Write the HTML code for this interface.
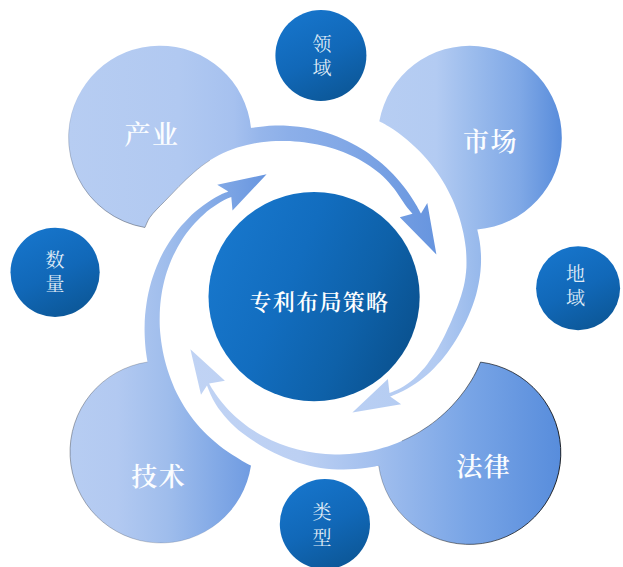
<!DOCTYPE html><html lang="zh"><head><meta charset="utf-8"><title>专利布局策略</title><style>html,body{margin:0;padding:0;background:#fff}svg{display:block}</style></head><body><svg width="623" height="567" viewBox="0 0 623 567"><defs><linearGradient id="g1" gradientUnits="userSpaceOnUse" x1="68" y1="0" x2="436" y2="0"><stop offset="0" stop-color="#b7cdf2"/><stop offset="0.3" stop-color="#b1c9f1"/><stop offset="0.45" stop-color="#a6c1ef"/><stop offset="0.52" stop-color="#96b6eb"/><stop offset="0.6" stop-color="#8cafe9"/><stop offset="0.75" stop-color="#82a8e6"/><stop offset="1" stop-color="#6795df"/></linearGradient><linearGradient id="g2" gradientUnits="userSpaceOnUse" x1="352" y1="0" x2="562" y2="0"><stop offset="0" stop-color="#b9cff3"/><stop offset="0.4" stop-color="#b3cbf2"/><stop offset="0.56" stop-color="#9dbded"/><stop offset="0.8" stop-color="#7fa8e6"/><stop offset="1" stop-color="#588cdb"/></linearGradient><linearGradient id="g3" gradientUnits="userSpaceOnUse" x1="190" y1="0" x2="560" y2="0"><stop offset="0" stop-color="#c0d3f4"/><stop offset="0.3" stop-color="#bcd0f3"/><stop offset="0.5" stop-color="#a2bfee"/><stop offset="0.75" stop-color="#79a5e6"/><stop offset="1" stop-color="#588ddc"/></linearGradient><linearGradient id="g4" gradientUnits="userSpaceOnUse" x1="68" y1="0" x2="267" y2="0"><stop offset="0" stop-color="#b7cdf2"/><stop offset="0.25" stop-color="#b2c9f1"/><stop offset="0.5" stop-color="#9fbdec"/><stop offset="0.75" stop-color="#82a9e6"/><stop offset="1" stop-color="#6795df"/></linearGradient><linearGradient id="gc" x1="0.05" y1="0.3" x2="0.98" y2="0.7"><stop offset="0" stop-color="#1776cb"/><stop offset="0.35" stop-color="#126dbf"/><stop offset="0.7" stop-color="#0e61a9"/><stop offset="1" stop-color="#0a5290"/></linearGradient>
<linearGradient id="gs" x1="0.25" y1="0.05" x2="0.7" y2="1"><stop offset="0" stop-color="#1674ca"/><stop offset="0.5" stop-color="#1168b8"/><stop offset="1" stop-color="#0c5797"/></linearGradient><linearGradient id="o3" gradientUnits="userSpaceOnUse" x1="378" y1="0" x2="560" y2="0"><stop offset="0" stop-color="#15181c" stop-opacity="0.25"/><stop offset="0.5" stop-color="#15181c" stop-opacity="0.6"/><stop offset="1" stop-color="#15181c" stop-opacity="0.95"/></linearGradient><linearGradient id="o4" gradientUnits="userSpaceOnUse" x1="68" y1="0" x2="252" y2="0"><stop offset="0" stop-color="#3a3f48" stop-opacity="0.5"/><stop offset="0.45" stop-color="#3a3f48" stop-opacity="0.25"/><stop offset="1" stop-color="#3a3f48" stop-opacity="0.0"/></linearGradient><linearGradient id="o1" gradientUnits="userSpaceOnUse" x1="0" y1="90" x2="0" y2="228"><stop offset="0" stop-color="#3a3f48" stop-opacity="0.0"/><stop offset="0.5" stop-color="#3a3f48" stop-opacity="0.3"/><stop offset="1" stop-color="#3a3f48" stop-opacity="0.5"/></linearGradient></defs><rect width="623" height="567" fill="#fff"/><path d="M251.0 128.0 C253.0 127.7 259.1 126.8 263.1 126.4 C267.1 125.9 271.1 125.7 275.1 125.6 C279.1 125.5 283.0 125.5 287.0 125.7 C290.9 125.9 294.8 126.2 298.7 126.7 C302.5 127.2 306.3 127.8 310.1 128.5 C313.9 129.3 317.6 130.2 321.2 131.2 C324.9 132.2 328.4 133.3 331.9 134.6 C335.5 135.8 338.9 137.2 342.3 138.7 C345.6 140.1 348.9 141.7 352.1 143.4 C355.3 145.1 358.4 146.9 361.5 148.7 C364.5 150.6 367.4 152.5 370.3 154.5 C373.1 156.6 375.9 158.7 378.5 160.8 C381.2 163.0 383.8 165.3 386.3 167.6 C388.7 169.9 391.1 172.2 393.4 174.6 C395.7 177.0 397.9 179.5 400.0 182.0 C402.1 184.5 404.1 187.0 406.0 189.6 C408.0 192.2 409.8 194.8 411.5 197.4 C413.3 200.1 414.9 202.7 416.5 205.4 C418.1 208.1 420.3 212.2 421.0 213.5 L427.3 202.9 L436.4 254.4 L399.8 217.3 L412.5 213.7 C411.7 212.8 409.1 210.0 407.5 208.0 C406.0 206.0 404.5 203.9 403.1 201.8 C401.6 199.7 400.2 197.4 398.7 195.2 C397.1 193.0 395.6 190.7 394.0 188.6 C392.3 186.4 390.6 184.3 388.7 182.2 C386.9 180.2 385.0 178.2 382.9 176.3 C380.9 174.4 378.8 172.6 376.6 170.9 C374.4 169.1 372.1 167.5 369.8 165.9 C367.5 164.3 365.1 162.8 362.6 161.4 C360.1 159.9 357.6 158.6 355.0 157.3 C352.5 156.0 349.8 154.8 347.2 153.7 C344.5 152.5 341.8 151.5 339.0 150.5 C336.2 149.5 333.4 148.6 330.6 147.8 C327.7 146.9 324.8 146.2 321.9 145.5 C319.0 144.8 316.0 144.2 313.1 143.7 C310.1 143.2 307.0 142.7 304.0 142.3 C300.9 142.0 297.9 141.7 294.8 141.5 C291.7 141.2 288.5 141.1 285.4 141.1 C282.2 141.0 279.0 141.0 275.8 141.1 C272.7 141.3 269.4 141.5 266.2 141.8 C263.0 142.1 259.8 142.5 256.5 143.0 C253.3 143.6 250.1 144.2 246.9 145.0 C243.7 145.7 240.4 146.6 237.3 147.6 C234.1 148.6 231.0 149.8 227.9 151.0 C224.8 152.3 221.7 153.7 218.7 155.3 C215.7 156.8 212.8 158.5 209.9 160.3 C207.1 162.1 204.3 164.0 201.6 166.1 C198.9 168.1 196.3 170.3 193.8 172.5 C191.2 174.7 188.7 177.1 186.2 179.4 C183.8 181.8 181.4 184.2 178.9 186.6 C176.5 189.1 174.1 191.6 171.7 194.1 C169.3 196.6 166.8 199.1 164.3 201.7 C161.8 204.2 159.2 206.7 156.7 209.4 C154.2 212.1 151.6 214.8 149.6 217.8 C147.6 220.8 145.7 225.9 144.9 227.5 A91.5 91.5 0 1 1 251.0 128.0 Z" fill="url(#g1)"/><path d="M477.3 229.5 C477.7 231.5 479.1 237.5 479.7 241.5 C480.3 245.5 480.7 249.5 480.9 253.5 C481.1 257.5 481.1 261.5 480.9 265.5 C480.7 269.5 480.3 273.5 479.7 277.4 C479.1 281.3 478.4 285.1 477.5 288.9 C476.7 292.7 475.6 296.4 474.5 300.1 C473.3 303.7 472.0 307.3 470.6 310.8 C469.2 314.3 467.7 317.7 466.2 321.0 C464.6 324.3 462.9 327.6 461.2 330.7 C459.5 333.9 457.7 337.0 455.9 340.0 C454.0 343.0 452.1 345.9 450.1 348.7 C448.2 351.5 446.1 354.3 444.0 356.9 C441.9 359.6 439.7 362.1 437.4 364.6 C435.2 367.1 432.9 369.4 430.5 371.7 C428.1 373.9 425.6 376.1 423.1 378.1 C420.6 380.1 418.0 382.1 415.3 383.8 C412.7 385.6 410.0 387.3 407.2 388.8 C404.4 390.3 401.6 391.7 398.7 392.9 C395.9 394.2 391.6 395.8 390.2 396.4 L401.1 404.3 L352.4 412.6 L387.9 379.1 L389.5 393.1 C390.7 392.6 394.5 391.2 396.8 390.1 C399.2 389.0 401.6 387.7 403.8 386.3 C406.1 384.9 408.3 383.3 410.3 381.7 C412.4 380.0 414.4 378.3 416.4 376.4 C418.3 374.6 420.2 372.6 421.9 370.6 C423.7 368.6 425.4 366.5 427.1 364.4 C428.7 362.3 430.3 360.0 431.8 357.8 C433.3 355.5 434.8 353.2 436.2 350.9 C437.6 348.6 439.0 346.2 440.3 343.7 C441.6 341.3 442.9 338.9 444.2 336.4 C445.4 333.9 446.6 331.3 447.8 328.7 C449.0 326.2 450.2 323.5 451.4 320.9 C452.5 318.2 453.7 315.5 454.8 312.8 C455.9 310.0 457.1 307.2 458.1 304.4 C459.2 301.5 460.2 298.6 461.2 295.6 C462.1 292.6 462.9 289.6 463.7 286.5 C464.4 283.4 465.0 280.3 465.4 277.2 C465.9 274.0 466.2 270.8 466.4 267.6 C466.5 264.4 466.5 261.1 466.4 257.9 C466.3 254.7 466.1 251.4 465.8 248.1 C465.4 244.9 464.9 241.6 464.4 238.4 C463.8 235.1 463.1 231.8 462.3 228.6 C461.6 225.3 460.7 222.1 459.7 218.8 C458.7 215.6 457.6 212.4 456.4 209.2 C455.2 205.9 453.9 202.8 452.5 199.6 C451.1 196.4 449.5 193.3 447.9 190.2 C446.3 187.1 444.5 184.0 442.7 181.0 C440.9 178.0 438.9 175.0 436.8 172.1 C434.8 169.2 432.6 166.3 430.4 163.5 C428.1 160.7 425.7 157.9 423.3 155.2 C420.8 152.6 418.3 149.9 415.6 147.4 C412.9 144.9 410.2 142.4 407.3 140.0 C404.5 137.6 401.5 135.3 398.5 133.1 C395.5 130.9 392.4 128.8 389.2 126.8 C386.0 124.8 380.9 122.2 379.3 121.3 A92.0 92.0 0 1 1 477.3 229.5 Z" fill="url(#g2)"/><path d="M378.7 465.7 C376.7 466.0 370.9 467.2 367.0 467.7 C363.1 468.3 359.2 468.8 355.3 469.1 C351.4 469.4 347.5 469.5 343.6 469.6 C339.8 469.6 335.9 469.4 332.1 469.2 C328.3 468.9 324.5 468.5 320.7 467.9 C316.9 467.3 313.2 466.6 309.6 465.7 C305.9 464.8 302.3 463.8 298.7 462.7 C295.2 461.6 291.7 460.3 288.3 459.0 C284.9 457.6 281.5 456.2 278.3 454.7 C275.0 453.1 271.8 451.6 268.6 449.9 C265.5 448.2 262.4 446.5 259.4 444.7 C256.4 442.9 253.5 441.0 250.6 439.1 C247.7 437.1 245.0 435.1 242.3 433.0 C239.6 430.9 237.0 428.7 234.5 426.4 C232.0 424.1 229.6 421.8 227.3 419.3 C225.1 416.8 222.9 414.3 220.9 411.6 C218.9 409.0 217.0 406.2 215.3 403.4 C213.6 400.6 212.1 397.6 210.7 394.7 C209.3 391.7 207.6 387.1 207.0 385.6 L201.0 394.8 L190.4 349.3 L224.9 380.7 L209.1 383.5 C209.8 384.7 211.8 388.3 213.3 390.6 C214.8 392.9 216.4 395.3 218.1 397.5 C219.7 399.8 221.5 402.0 223.3 404.1 C225.1 406.3 227.0 408.4 229.0 410.5 C231.0 412.5 233.1 414.5 235.2 416.5 C237.3 418.4 239.5 420.3 241.8 422.1 C244.0 423.9 246.4 425.7 248.8 427.4 C251.2 429.0 253.6 430.6 256.2 432.2 C258.7 433.7 261.3 435.2 263.9 436.6 C266.5 438.0 269.2 439.3 271.9 440.6 C274.7 441.8 277.4 443.0 280.3 444.0 C283.1 445.1 286.0 446.1 288.9 447.0 C291.8 448.0 294.7 448.8 297.7 449.5 C300.7 450.3 303.7 451.0 306.8 451.5 C309.8 452.1 312.9 452.6 316.0 453.0 C319.1 453.4 322.2 453.7 325.4 454.0 C328.5 454.2 331.7 454.3 334.9 454.4 C338.1 454.4 341.3 454.4 344.5 454.2 C347.7 454.1 350.9 453.9 354.1 453.5 C357.3 453.2 360.6 452.8 363.8 452.2 C367.0 451.7 370.2 451.1 373.4 450.4 C376.6 449.6 379.8 448.8 383.0 447.8 C386.2 446.9 389.4 445.9 392.5 444.7 C395.6 443.6 398.8 442.3 401.8 441.0 C404.9 439.6 408.0 438.2 411.0 436.6 C414.0 435.1 417.0 433.4 419.9 431.7 C422.8 429.9 425.7 428.0 428.5 426.1 C431.3 424.1 434.0 422.1 436.7 419.9 C439.4 417.7 442.0 415.5 444.6 413.1 C447.1 410.8 449.6 408.4 452.0 405.8 C454.4 403.3 456.7 400.7 458.9 398.0 C461.1 395.3 463.2 392.5 465.3 389.7 C467.3 386.8 469.2 383.9 471.1 380.9 C472.9 377.9 474.6 374.9 476.2 371.7 C477.8 368.6 479.8 363.7 480.5 362.1 A91.5 91.5 0 1 1 378.7 465.7 Z" fill="url(#g3)"/><path d="M147.5 362.0 C147.2 360.0 146.2 354.0 145.7 350.1 C145.3 346.1 145.0 342.1 144.8 338.2 C144.6 334.3 144.5 330.3 144.6 326.4 C144.6 322.6 144.8 318.7 145.1 314.9 C145.5 311.0 145.9 307.3 146.5 303.5 C147.0 299.8 147.7 296.1 148.5 292.4 C149.3 288.8 150.3 285.2 151.3 281.6 C152.3 278.1 153.5 274.6 154.8 271.2 C156.0 267.8 157.4 264.4 158.9 261.2 C160.3 257.9 161.9 254.7 163.6 251.6 C165.3 248.4 167.1 245.4 169.0 242.5 C170.8 239.5 172.8 236.6 174.9 233.9 C176.9 231.1 179.1 228.4 181.3 225.8 C183.5 223.3 185.8 220.8 188.2 218.4 C190.5 216.0 193.0 213.8 195.5 211.6 C198.0 209.5 200.6 207.4 203.2 205.5 C205.8 203.6 208.5 201.7 211.2 200.0 C213.9 198.3 216.7 196.7 219.5 195.3 C222.4 193.9 226.8 192.2 228.3 191.6 L217.2 184.7 L266.6 174.3 L232.5 210.6 L231.3 197.0 C230.0 197.5 226.2 199.0 223.8 200.2 C221.4 201.4 219.1 202.9 216.8 204.4 C214.6 205.9 212.3 207.4 210.1 209.1 C207.9 210.8 205.8 212.5 203.7 214.4 C201.6 216.2 199.6 218.2 197.7 220.2 C195.7 222.2 193.8 224.3 191.9 226.4 C190.1 228.6 188.3 230.8 186.6 233.1 C184.9 235.4 183.3 237.8 181.7 240.2 C180.2 242.7 178.7 245.2 177.3 247.7 C175.9 250.3 174.6 252.9 173.3 255.6 C172.1 258.2 170.9 260.9 169.8 263.7 C168.7 266.5 167.7 269.3 166.8 272.1 C165.9 275.0 165.1 277.9 164.3 280.8 C163.6 283.8 162.9 286.7 162.3 289.7 C161.8 292.7 161.3 295.8 160.9 298.8 C160.5 301.9 160.2 305.0 160.0 308.1 C159.8 311.2 159.7 314.3 159.7 317.4 C159.6 320.6 159.7 323.7 159.8 326.9 C160.0 330.0 160.2 333.2 160.6 336.4 C160.9 339.6 161.4 342.8 161.9 345.9 C162.4 349.1 163.0 352.3 163.7 355.5 C164.4 358.7 165.2 361.9 166.1 365.1 C167.0 368.2 168.0 371.4 169.1 374.5 C170.2 377.7 171.4 380.8 172.7 383.9 C173.9 387.0 175.3 390.1 176.8 393.2 C178.3 396.2 180.0 399.2 181.7 402.2 C183.4 405.2 185.2 408.1 187.1 411.0 C189.0 413.8 191.1 416.6 193.2 419.4 C195.3 422.1 197.6 424.8 199.9 427.4 C202.2 430.0 204.7 432.5 207.2 435.0 C209.7 437.4 212.4 439.8 215.1 442.1 C217.8 444.4 220.6 446.6 223.4 448.7 C226.3 450.8 229.2 452.9 232.3 454.8 C235.3 456.7 238.4 458.6 241.5 460.4 C244.6 462.2 249.4 464.7 251.0 465.6 A91.0 91.0 0 1 1 147.5 362.0 Z" fill="url(#g4)"/><path d="M401.8 441.0 C403.4 440.3 408.0 438.2 411.0 436.6 C414.0 435.1 417.0 433.4 419.9 431.7 C422.8 429.9 425.7 428.0 428.5 426.1 C431.3 424.1 434.0 422.1 436.7 419.9 C439.4 417.7 442.0 415.5 444.6 413.1 C447.1 410.8 449.6 408.4 452.0 405.8 C454.4 403.3 456.7 400.7 458.9 398.0 C461.1 395.3 463.2 392.5 465.3 389.7 C467.3 386.8 469.2 383.9 471.1 380.9 C472.9 377.9 474.6 374.9 476.2 371.7 C477.8 368.6 479.8 363.7 480.5 362.1 A91.5 91.5 0 1 1 378.7 465.7" fill="none" stroke="url(#o3)" stroke-width="1"/><path d="M251 465.6 A91 91 0 1 1 147.5 362" fill="none" stroke="url(#o4)" stroke-width="0.9"/><path d="M209.9 160.3 C208.6 161.2 204.3 164.0 201.6 166.1 C198.9 168.1 196.3 170.3 193.8 172.5 C191.2 174.7 188.7 177.1 186.2 179.4 C183.8 181.8 181.4 184.2 178.9 186.6 C176.5 189.1 174.1 191.6 171.7 194.1 C169.3 196.6 166.8 199.1 164.3 201.7 C161.8 204.2 159.2 206.7 156.7 209.4 C154.2 212.1 151.6 214.8 149.6 217.8 C147.6 220.8 145.7 225.9 144.9 227.5 A91.5 91.5 0 0 1 80 93" fill="none" stroke="url(#o1)" stroke-width="0.9"/><ellipse cx="314.1" cy="296.7" rx="105.6" ry="104.6" fill="url(#gc)"/><circle cx="320.9" cy="55.5" r="45.5" fill="url(#gs)"/><circle cx="578.1" cy="288.3" r="42" fill="url(#gs)"/><circle cx="324.9" cy="524.1" r="45.1" fill="url(#gs)"/><circle cx="55.1" cy="272.3" r="44.6" fill="url(#gs)"/><text x="151.95" y="135.2" font-family="'Liberation Serif','Noto Serif CJK SC',serif" font-size="26" letter-spacing="1.5" font-weight="600" fill="#fbfdff" text-anchor="middle" dominant-baseline="central">产业</text><text x="490.55" y="142.1" font-family="'Liberation Serif','Noto Serif CJK SC',serif" font-size="26" letter-spacing="1.5" font-weight="600" fill="#fbfdff" text-anchor="middle" dominant-baseline="central">市场</text><text x="158.75" y="477.7" font-family="'Liberation Serif','Noto Serif CJK SC',serif" font-size="26" letter-spacing="1.5" font-weight="600" fill="#fbfdff" text-anchor="middle" dominant-baseline="central">技术</text><text x="483.75" y="467.7" font-family="'Liberation Serif','Noto Serif CJK SC',serif" font-size="26" letter-spacing="1.5" font-weight="600" fill="#fbfdff" text-anchor="middle" dominant-baseline="central">法律</text><text x="319.45" y="302.2" font-family="'Liberation Serif','Noto Serif CJK SC',serif" font-size="22" letter-spacing="1.3" font-weight="600" fill="#ffffff" text-anchor="middle" dominant-baseline="central">专利布局策略</text><text x="322" y="44.300000000000004" font-family="'Liberation Serif','Noto Serif CJK SC',serif" font-size="19" fill="#dfeaf6" text-anchor="middle" dominant-baseline="central">领</text><text x="322" y="68.3" font-family="'Liberation Serif','Noto Serif CJK SC',serif" font-size="19" fill="#dfeaf6" text-anchor="middle" dominant-baseline="central">域</text><text x="575.4" y="274.3" font-family="'Liberation Serif','Noto Serif CJK SC',serif" font-size="19" fill="#dfeaf6" text-anchor="middle" dominant-baseline="central">地</text><text x="575.4" y="298.4" font-family="'Liberation Serif','Noto Serif CJK SC',serif" font-size="19" fill="#dfeaf6" text-anchor="middle" dominant-baseline="central">域</text><text x="322" y="512.8000000000001" font-family="'Liberation Serif','Noto Serif CJK SC',serif" font-size="19" fill="#dfeaf6" text-anchor="middle" dominant-baseline="central">类</text><text x="322" y="538.3000000000001" font-family="'Liberation Serif','Noto Serif CJK SC',serif" font-size="19" fill="#dfeaf6" text-anchor="middle" dominant-baseline="central">型</text><text x="55" y="260.2" font-family="'Liberation Serif','Noto Serif CJK SC',serif" font-size="19" fill="#dfeaf6" text-anchor="middle" dominant-baseline="central">数</text><text x="55" y="284.3" font-family="'Liberation Serif','Noto Serif CJK SC',serif" font-size="19" fill="#dfeaf6" text-anchor="middle" dominant-baseline="central">量</text></svg></body></html>
